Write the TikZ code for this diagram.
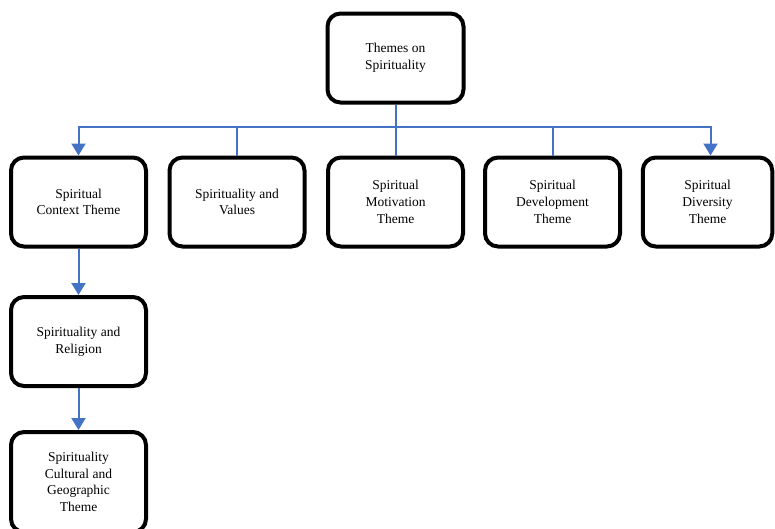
\documentclass[tikz,border=0pt]{standalone}
\usepackage{fontspec}
\setmainfont{Liberation Serif}
\usepackage{tikz}
\usetikzlibrary{positioning,arrows.meta}
\definecolor{linkblue}{RGB}{68,114,196}

\begin{document}
\begin{tikzpicture}[x=1pt,y=-1pt,
		themebox/.style={draw, line width=4pt, rounded corners=13pt, minimum width=135pt, minimum height=89pt, align=center, inner sep=2pt, font=\fontsize{13.5}{16.7}\selectfont},
		link/.style={draw=linkblue, line width=2pt},
		arrowlink/.style={link, -{Triangle[width=14pt,length=12pt]}}]
	
	\useasboundingbox (0,0) rectangle (775,528);
	\clip (0,0) rectangle (775,528);
	
	% Top theme
	\node[themebox, minimum width=136pt] (top) at (395.5,58) {Themes on\\Spirituality};
	
	% Second row
	\node[themebox] (context) at (78.5,202) {Spiritual\\Context Theme};
	\node[themebox] (values) at (237,202) {Spirituality and\\Values};
	\node[themebox] (motivation) at (395.5,202) {Spiritual\\Motivation\\Theme};
	\node[themebox] (development) at (552.5,202) {Spiritual\\Development\\Theme};
	\node[themebox, minimum width=129.5pt] (diversity) at (707.5,202) {Spiritual\\Diversity\\Theme};
	
	% Left column
	\node[themebox] (religion) at (78.5,341.5) {Spirituality and\\Religion};
	\node[themebox, minimum height=100pt] (cultural) at (78.5,482) {Spirituality\\Cultural and\\Geographic\\Theme};
	
	% Connectors
	\coordinate (bus) at (395.5,127);
	\draw[link] (top.south) -- (motivation.north);
	\draw[arrowlink] (bus) -| (context.north);
	\draw[arrowlink] (bus) -| ([xshift=3pt]diversity.north);
	\foreach \n in {values,development}
		\draw[link] (bus -| \n.north) -- (\n.north);
	\draw[arrowlink] (context.south) -- (religion.north);
	\draw[arrowlink] (religion.south) -- (cultural.north);
	
\end{tikzpicture}
\end{document}
